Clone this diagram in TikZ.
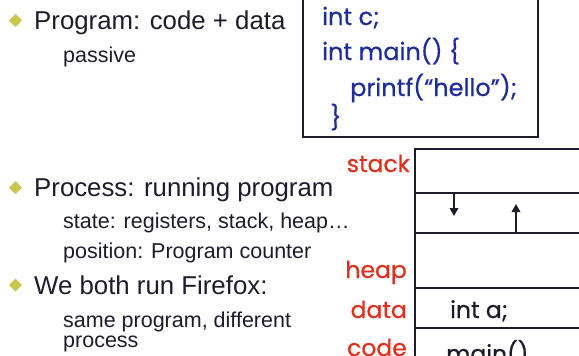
\documentclass[tikz,border=0pt]{standalone}
\usepackage{fontspec}
\setmainfont{Liberation Sans}
\newfontfamily\codefont[FakeBold=0.6]{Poppins}
\usetikzlibrary{arrows.meta}
\definecolor{ink}{HTML}{1C1C2C}
\definecolor{bulletc}{HTML}{C8C84E}
\definecolor{codeblue}{HTML}{1E2C9C}
\definecolor{segred}{HTML}{E0301C}
\tikzset{
  txt/.style={anchor=base west, inner sep=0pt, text=ink},
  head/.style={txt, font=\fontsize{25.8}{28}\selectfont},
  sub/.style={txt, font=\fontsize{21.5}{24}\selectfont},
  bul/.style={fill=bulletc, draw=none},
  code/.style={anchor=base west, inner sep=0pt, text=codeblue, font=\codefont\fontsize{24}{26}\selectfont},
  seg/.style={anchor=base east, inner sep=0pt, text=segred, font=\codefont\fontsize{23.5}{26}\selectfont},
  mem/.style={anchor=base west, inner sep=0pt, text=ink, font=\codefont\fontsize{23.5}{26}\selectfont},
  frame/.style={draw=ink, line width=2pt},
  rule/.style={draw=ink, line width=1.8pt},
  growarrow/.style={draw=ink, line width=1.8pt, -{Triangle[length=8pt,width=8.5pt]}}
}
\begin{document}
\begin{tikzpicture}[x=1pt,y=-1pt]
  \useasboundingbox (0,0) rectangle (579,356);
  \clip (0,0) rectangle (579,356);

  % bullet list
  \fill[bul] (15.5,14) -- (22,20.5) -- (15.5,27) -- (9,20.5) -- cycle;
  \node[head] (p1) at (34,30) {Program: code + data};
  \node[sub]  (p1a) at (63,62) {passive};

  \fill[bul] (15.5,181) -- (22,187.5) -- (15.5,194) -- (9,187.5) -- cycle;
  \node[head] (p2) at (34,196) {Process: running program};
  \node[sub]  (p2a) at (63,228) {state: registers, stack, heap…};
  \node[sub]  (p2b) at (63,258) {position:  Program counter};

  \fill[bul] (15.5,278.5) -- (22,285) -- (15.5,291.5) -- (9,285) -- cycle;
  \node[head] (p3) at (34,294) {We both run Firefox:};
  \node[sub]  (p3a) at (63,327) {same program, different};
  \node[sub]  (p3b) at (63,347) {process};

  % program source box
  \draw[frame] (303,-5) rectangle (538,137);
  \node[code] (c1) at (322,25) {int c;};
  \node[code] (c2) at (322,60) {int main() \{};
  \node[code] (c3) at (350,96) {printf(“hello”);};
  \node[code] (c4) at (330,126) {\}};

  % process address space
  \draw[frame] (600,149) -- (415,149) -- (415,370);
  \foreach \yy in {193,233,288,328} \draw[rule] (415,\yy) -- (600,\yy);
  \coordinate (sd0) at (454,193);
  \coordinate (sd1) at (454,216);
  \coordinate (hu0) at (516,233);
  \coordinate (hu1) at (516,204);
  \draw[growarrow] (sd0) -- (sd1);
  \draw[growarrow] (hu0) -- (hu1);

  \node[seg] (ls) at (410,172) {stack};
  \node[seg] (lh) at (407,278) {heap};
  \node[seg] (ld) at (407,318) {data};
  \node[seg] (lc) at (407,356) {code};

  \node[mem] (ma) at (450,318) {int a;};
  \node[mem] (mm) at (446,362) {main()};
\end{tikzpicture}
\end{document}
